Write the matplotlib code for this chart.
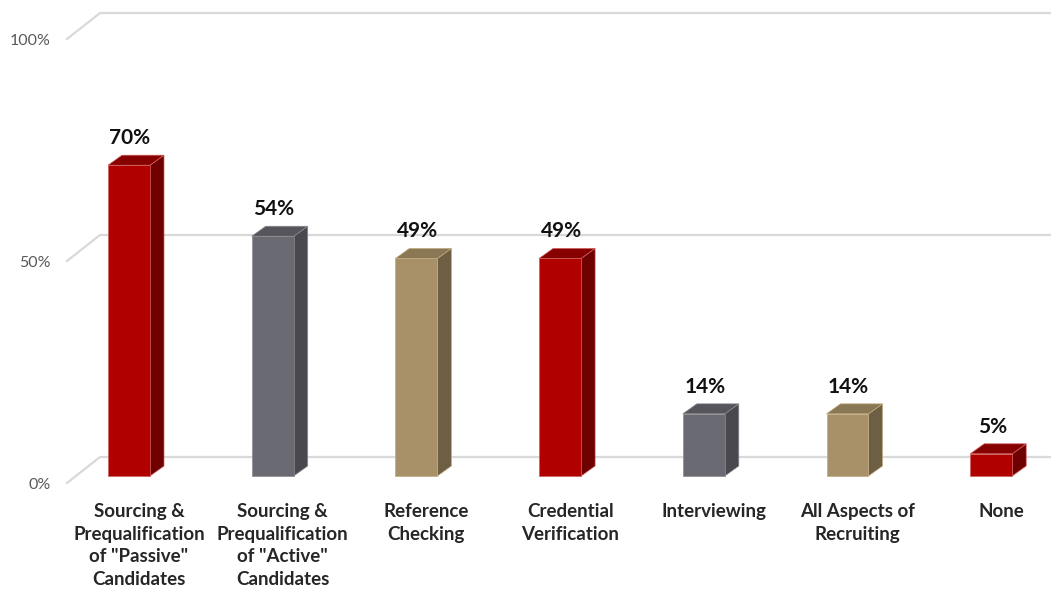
import matplotlib
matplotlib.use("Agg")
import matplotlib.pyplot as plt
from matplotlib.patches import Polygon

categories = ['Sourcing &\nPrequalification\nof "Passive"\nCandidates',
              'Sourcing &\nPrequalification\nof "Active"\nCandidates',
              'Reference\nChecking',
              'Credential\nVerification',
              'Interviewing',
              'All Aspects of\nRecruiting',
              'None']
values = [70, 54, 49, 49, 14, 14, 5]
value_labels = ['70%', '54%', '49%', '49%', '14%', '14%', '5%']
tick_values = [0, 50, 100]
tick_labels = ['0%', '50%', '100%']

palette = {
    'red': ('#B00000', '#6E0000', '#860000', '#D06060'),
    'gray': ('#6A6A72', '#48484E', '#55555B', '#8A8A90'),
    'tan': ('#A89068', '#6E5E43', '#8A7753', '#C0AA80'),
}
bar_colors = ['red', 'gray', 'tan', 'red', 'gray', 'tan', 'red']

W, H = 1051, 589
fig = plt.figure(figsize=(W / 100, H / 100), dpi=100)
ax = fig.add_axes([0, 0, 1, 1])

# pixel geometry -> data units
px_per_unit_x = 143.7
px_per_pct = 4.44
x0_px = 129.0
base_px = 476.0
xl = (0 - x0_px) / px_per_unit_x
xr = (W - x0_px) / px_per_unit_x
yb = (base_px - H) / px_per_pct
yt = base_px / px_per_pct
ax.set_xlim(xl, xr)
ax.set_ylim(yb, yt)
ax.axis('off')

def px2x(p):
    return (p - x0_px) / px_per_unit_x

def dpx(p):
    return p / px_per_pct

# gridlines (wall-style: slanted front segment + back horizontal line)
wall_front_dy = dpx(-7)
wall_back_dy = dpx(19)
for tv, tl in zip(tick_values, tick_labels):
    yf = tv + wall_front_dy
    yb_ = tv + wall_back_dy
    ax.plot([px2x(67), px2x(100), xr], [yf, yb_, yb_], color='#D9D9D9', lw=1.6,
            solid_joinstyle='miter', zorder=1)
    ax.text(px2x(51), yf - dpx(2), tl, ha='right', va='center', fontsize=11.5,
            color='#595959', family='Lato')

# 3D bars
bw = 42 / px_per_unit_x
ddx = 14 / px_per_unit_x
ddy = dpx(10)
for i, (v, c) in enumerate(zip(values, bar_colors)):
    front, side, top, edge = palette[c]
    xL = i - bw / 2
    xR = i + bw / 2
    ax.add_patch(Polygon([(xR, 0), (xR + ddx, ddy), (xR + ddx, v + ddy), (xR, v)],
                         closed=True, facecolor=side, edgecolor=edge, lw=0.5, zorder=3))
    ax.add_patch(Polygon([(xL, v), (xR, v), (xR + ddx, v + ddy), (xL + ddx, v + ddy)],
                         closed=True, facecolor=top, edgecolor=edge, lw=0.5, zorder=3))
    ax.add_patch(Polygon([(xL, 0), (xR, 0), (xR, v), (xL, v)],
                         closed=True, facecolor=front, edgecolor=edge, lw=0.5, zorder=4))
    ax.text(i + 1 / px_per_unit_x, v + ddy + dpx(7), value_labels[i], ha='center', va='bottom',
            fontsize=15, fontweight='bold', color='#111111', family='Lato', zorder=5)
    ax.text(i + 10 / px_per_unit_x, dpx(-27), categories[i], ha='center', va='top',
            fontsize=13.5, fontweight='bold', color='#262626', family='Lato',
            linespacing=1.41, zorder=5)

fig.savefig('out.png', dpi=100)
